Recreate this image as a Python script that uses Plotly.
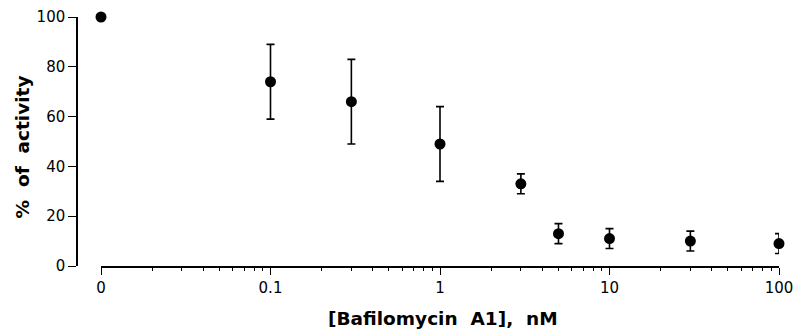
import plotly.graph_objects as go

# Data (x = 0 control is drawn at the 0.01 position of the log axis)
conc_labels = ["0", "0.1", "0.3", "1", "3", "5", "10", "30", "100"]
conc_plot = [0.01, 0.1, 0.3, 1, 3, 5, 10, 30, 100]
activity = [100, 74, 66, 49, 33, 13, 11, 10, 9]
error = [0, 15, 17, 15, 4, 4, 4, 4, 4]

tick_vals = [0.01, 0.1, 1, 10, 100]
tick_text = ["0", "0.1", "1", "10", "100"]
minor_vals = [m * d for d in [0.01, 0.1, 1, 10] for m in range(2, 10)]

TICKFONT = "DejaVu Sans, Liberation Sans, Arial, sans-serif"
TITLEFONT = "DejaVu Sans, Liberation Sans, Arial, sans-serif"

fig = go.Figure()
fig.add_trace(go.Scatter(
    x=conc_plot, y=activity, mode="markers",
    marker=dict(color="black", size=11, symbol="circle"),
    error_y=dict(type="data", array=error, visible=True, color="black",
                 thickness=1.6, width=4),
    cliponaxis=False, showlegend=False,
    text=conc_labels,
))

L, R, T, B = 77, 16, 17, 68
W, H = 795, 334
pw = W - L - R
x0 = (101 - L) / pw

fig.update_layout(
    width=W, height=H,
    margin=dict(l=L, r=R, t=T, b=B),
    plot_bgcolor="white", paper_bgcolor="white",
    font=dict(family=TICKFONT, color="black", size=15),
    xaxis=dict(
        type="log", range=[-2, 2], domain=[x0, 1], automargin=False,
        tickmode="array", tickvals=tick_vals, ticktext=tick_text,
        ticks="outside", ticklen=7, tickwidth=1.3, tickcolor="black",
        showline=True, linecolor="black", linewidth=1.5,
        showgrid=False, zeroline=False,
        minor=dict(tickmode="array", tickvals=minor_vals, ticks="outside",
                   ticklen=3, tickwidth=1.2, tickcolor="black", showgrid=False),
        tickfont=dict(size=15, family=TICKFONT),
    ),
    yaxis=dict(
        range=[0, 100], anchor="free", position=0, automargin=False,
        tickvals=[0, 20, 40, 60, 80, 100],
        ticks="outside", ticklen=8, tickwidth=1.3, tickcolor="black",
        showline=True, linecolor="black", linewidth=1.5,
        showgrid=False, zeroline=False,
        tickfont=dict(size=15, family=TICKFONT),
    ),
    annotations=[
        dict(text="<b>[Bafilomycin&nbsp; A1],&nbsp; nM</b>",
             xref="paper", yref="paper", x=(442.5 - L) / pw, y=(H - B - 318) / (H - T - B),
             xanchor="center", yanchor="middle", showarrow=False,
             font=dict(size=18.5, family=TITLEFONT)),
        dict(text="<b>%&nbsp; of&nbsp; activity</b>", textangle=-90,
             xref="paper", yref="paper", x=(22 - L) / pw, y=(H - B - 147.5) / (H - T - B),
             xanchor="center", yanchor="middle", showarrow=False,
             font=dict(size=18.5, family=TITLEFONT)),
    ],
)

fig.write_html("out.html", config={"displayModeBar": False},
               post_script="document.body.style.margin='0';")
